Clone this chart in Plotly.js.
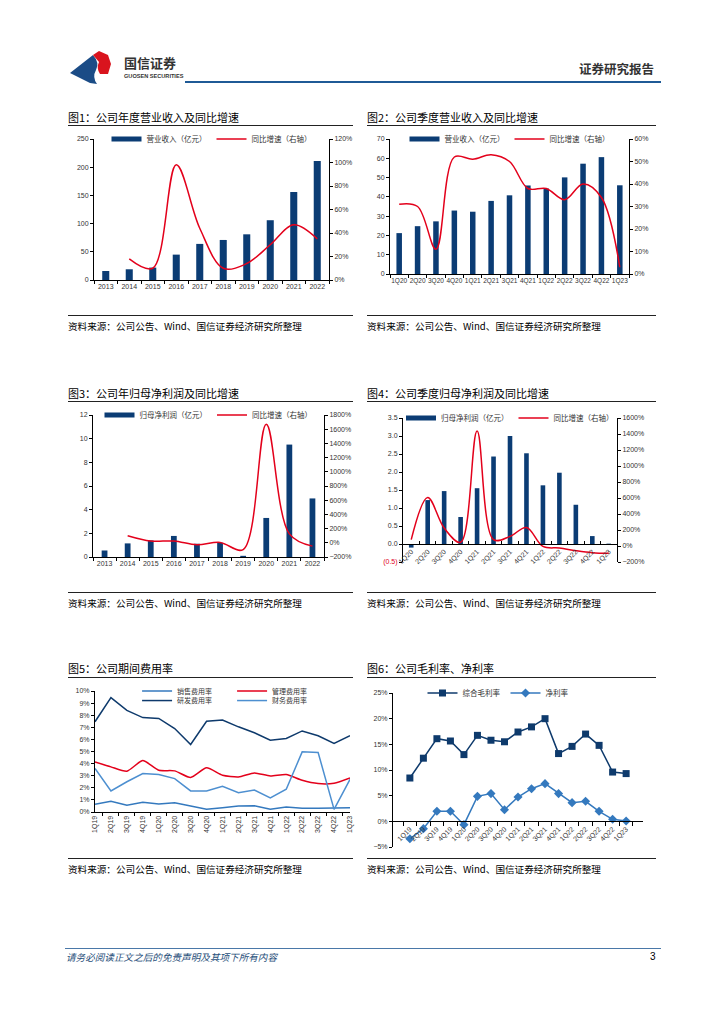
<!DOCTYPE html>
<html><head><meta charset="utf-8">
<script src="https://cdn.plot.ly/plotly-3.0.1.min.js"></script>
<style>
body{margin:0;background:#fff;width:724px;height:1024px;position:relative;overflow:hidden;font-family:"Liberation Sans","Noto Sans CJK SC",sans-serif;}
.abs{position:absolute;}
.title{position:absolute;font-size:11px;color:#000;white-space:nowrap;line-height:12px;font-family:"Noto Sans CJK SC",sans-serif;}
.src{position:absolute;font-size:9.6px;color:#000;white-space:nowrap;line-height:11px;font-family:"Noto Sans CJK SC",sans-serif;}
.hr{position:absolute;height:1px;background:#222;}
.chart{position:absolute;width:300px;}
</style></head><body>

<!-- header -->
<svg class="abs" style="left:66px;top:50px" width="50" height="36" viewBox="66 50 50 36">
  <path d="M70,73 L93,55 Q100,63 96,70 Q92,77 97,84 L90,83 Z" fill="#1B4C86"/>
  <path d="M93,55 L99,51 L108,55 L111,64 L108,74 L100,74 Q96,68 99,62 Z" fill="#D9141E"/>
</svg>
<div class="abs" style="left:124px;top:55px;font-size:13px;font-weight:bold;color:#333;letter-spacing:0px;font-family:'Noto Sans CJK SC';line-height:15px;">国信证券</div>
<div class="abs" style="left:124px;top:73px;font-size:5.6px;font-weight:bold;color:#333;font-family:'Liberation Sans';line-height:7px;">GUOSEN SECURITIES</div>
<div class="abs" style="left:579px;top:61px;font-size:12.5px;font-weight:bold;color:#333;font-family:'Noto Sans CJK SC';line-height:15px;">证券研究报告</div>
<div class="abs" style="left:185px;top:81px;width:476px;height:2px;background:#1F5A96;"></div>

<!-- titles -->
<div class="title" style="left:68px;top:111px">图1：公司年度营业收入及同比增速</div>
<div class="hr" style="left:68px;top:125px;width:285px"></div>
<div class="title" style="left:367px;top:111px">图2：公司季度营业收入及同比增速</div>
<div class="hr" style="left:367px;top:125px;width:289px"></div>

<div class="title" style="left:68px;top:387px">图3：公司年归母净利润及同比增速</div>
<div class="hr" style="left:68px;top:401px;width:285px"></div>
<div class="title" style="left:367px;top:387px">图4：公司季度归母净利润及同比增速</div>
<div class="hr" style="left:367px;top:401px;width:289px"></div>

<div class="title" style="left:68px;top:662px">图5：公司期间费用率</div>
<div class="hr" style="left:68px;top:677px;width:285px"></div>
<div class="title" style="left:367px;top:662px">图6：公司毛利率、净利率</div>
<div class="hr" style="left:367px;top:677px;width:289px"></div>

<!-- charts -->
<div id="c1" class="chart" style="left:60px;top:109px"></div>
<div id="c2" class="chart" style="left:360px;top:109px"></div>
<div id="c3" class="chart" style="left:60px;top:385px"></div>
<div id="c4" class="chart" style="left:360px;top:388px"></div>
<div id="c5" class="chart" style="left:60px;top:661px"></div>
<div id="c6" class="chart" style="left:360px;top:663px"></div>

<!-- sources -->
<div class="hr" style="left:68px;top:315px;width:285px"></div>
<div class="src" style="left:68px;top:321px">资料来源：公司公告、Wind、国信证券经济研究所整理</div>
<div class="hr" style="left:367px;top:315px;width:289px"></div>
<div class="src" style="left:367px;top:321px">资料来源：公司公告、Wind、国信证券经济研究所整理</div>

<div class="hr" style="left:68px;top:592px;width:285px"></div>
<div class="src" style="left:68px;top:598px">资料来源：公司公告、Wind、国信证券经济研究所整理</div>
<div class="hr" style="left:367px;top:592px;width:289px"></div>
<div class="src" style="left:367px;top:598px">资料来源：公司公告、Wind、国信证券经济研究所整理</div>

<div class="hr" style="left:68px;top:858px;width:285px"></div>
<div class="src" style="left:68px;top:864px">资料来源：公司公告、Wind、国信证券经济研究所整理</div>
<div class="hr" style="left:367px;top:858px;width:289px"></div>
<div class="src" style="left:367px;top:864px">资料来源：公司公告、Wind、国信证券经济研究所整理</div>

<!-- footer -->
<div class="abs" style="left:65px;top:948px;width:596px;height:1px;background:#4A78A8;"></div>
<div class="abs" style="left:66px;top:951px;font-size:9.6px;font-style:italic;color:#1F4E79;font-family:'Noto Sans CJK SC';line-height:12px;">请务必阅读正文之后的免责声明及其项下所有内容</div>
<div class="abs" style="left:650px;top:951px;font-size:10px;color:#000;line-height:12px;">3</div>

<script>
// ---------- data ----------
const years = ['2013','2014','2015','2016','2017','2018','2019','2020','2021','2022'];
const annualRevenue = [16,19,22,45,64,71,81,106,156,211];
const annualRevenueGrowth = [null,18,10,98,44,10,14,30,47,35];

const quarters20 = ['1Q20','2Q20','3Q20','4Q20','1Q21','2Q21','3Q21','4Q21','1Q22','2Q22','3Q22','4Q22','1Q23'];
const quarterRevenue = [21.2,24.8,27.3,32.9,32.3,37.9,40.8,45.9,44.3,50.1,57.2,60.6,46.0];
const quarterRevenueGrowth = [31,30,11,52,51,53,50,38,38,33,40,34,3];

const annualProfit = [0.55,1.15,1.4,1.78,1.12,1.2,0.1,3.3,9.5,4.95];
const annualProfitGrowth = [null,100,25,25,-28,5,-95,1670,126,-47];

const quarterProfit = [-0.1,1.22,1.47,0.75,1.55,2.43,3.0,2.52,1.63,1.98,1.09,0.22,0.01];
const quarterProfitGrowth = [79,606,224,46,1436,79,120,232,-5,-25,-58,-83,-91];
const q4Ticks = [-0.5,0,0.5,1,1.5,2,2.5,3,3.5];
const q4TickText = ['<span style="fill:#e0001b">(0.5)</span>','0.0','0.5','1.0','1.5','2.0','2.5','3.0','3.5'];

const quarters19 = ['1Q19','2Q19','3Q19','4Q19','1Q20','2Q20','3Q20','4Q20','1Q21','2Q21','3Q21','4Q21','1Q22','2Q22','3Q22','4Q22','1Q23'];
const sellingRate = [0.64,0.88,0.55,0.8,0.66,0.77,0.5,0.22,0.36,0.5,0.52,0.22,0.41,0.3,0.3,0.3,0.36];
const adminRate = [4.14,3.73,3.37,4.25,3.45,3.4,2.85,3.65,3.04,2.9,3.23,2.98,3.1,2.62,2.35,2.38,2.82];
const rdRate = [7.46,9.45,8.4,7.8,7.73,6.9,5.58,7.5,7.6,7.04,6.55,5.94,6.08,6.7,6.3,5.66,6.3];
const financeRate = [3.6,1.74,2.5,3.18,3.1,2.76,1.74,1.74,2.13,1.6,1.82,1.16,1.88,4.97,4.92,0.22,2.7];

const grossMargin = [8.44,12.3,16.1,15.65,13.0,16.75,15.8,15.5,17.4,18.4,20.0,13.2,14.6,17.0,14.8,9.6,9.3];
const netMargin = [-3.4,-1.43,1.95,1.95,-0.65,4.87,5.4,2.27,4.74,6.36,7.34,5.4,3.64,3.9,1.95,0.4,0.06];

// ---------- styles ----------
const NAVY = '#0B3C74', RED = '#E3001B', BLUE = '#3479BE', LBLUE = '#4D8FD0', DNAVY = '#0E3A6C';
const FONT = {family:'Liberation Sans, Noto Sans CJK SC, sans-serif', size:7, color:'#333'};
const LFONT = {family:'Noto Sans CJK SC, sans-serif', size:7.5, color:'#333'};
const cfg = {staticPlot:true, displayModeBar:false};
function axis(extra){
  return Object.assign({showline:true, linecolor:'#000', linewidth:1, ticks:'outside', ticklen:3,
    tickcolor:'#000', showgrid:false, zeroline:false, tickfont:FONT, fixedrange:true}, extra);
}
function baseLayout(height, margin, extra){
  return Object.assign({width:300, height:height, margin:margin, paper_bgcolor:'rgba(0,0,0,0)',
    plot_bgcolor:'rgba(0,0,0,0)', font:FONT, showlegend:true, hovermode:false,
    legend:{orientation:'h', x:0.5, xanchor:'center', y:1.0, yanchor:'middle', font:LFONT,
      bgcolor:'rgba(0,0,0,0)', itemwidth:30, tracegroupgap:0}}, extra);
}
function legendBar(name){
  return {type:'scatter', mode:'lines', x:[null], y:[null], name:name, line:{color:NAVY, width:5}, hoverinfo:'skip'};
}

// ---------- chart 1 ----------
Plotly.newPlot('c1', [
  {type:'bar', x:years, y:annualRevenue, marker:{color:NAVY}, width:0.3, showlegend:false},
  legendBar('营业收入（亿元）'),
  {type:'scatter', mode:'lines', x:years, y:annualRevenueGrowth, yaxis:'y2', name:'同比增速（右轴）',
   line:{color:RED, width:1.5, shape:'spline'}}
], baseLayout(199, {l:34,r:31,t:30,b:28}, {
  xaxis:axis({type:'category', tickson:'boundaries', tickangle:0}),
  yaxis:axis({range:[0,250], dtick:50}),
  yaxis2:axis({overlaying:'y', side:'right', range:[0,120], dtick:20, ticksuffix:'%'})
}), cfg);

// ---------- chart 2 ----------
Plotly.newPlot('c2', [
  {type:'bar', x:quarters20, y:quarterRevenue, marker:{color:NAVY}, width:0.3, showlegend:false},
  legendBar('营业收入（亿元）'),
  {type:'scatter', mode:'lines', x:quarters20, y:quarterRevenueGrowth, yaxis:'y2', name:'同比增速（右轴）',
   line:{color:RED, width:1.5, shape:'spline'}}
], baseLayout(199, {l:30,r:31,t:30,b:34}, {
  xaxis:axis({type:'category', tickson:'boundaries', tickangle:0, tickfont:Object.assign({},FONT,{size:6.5})}),
  yaxis:axis({range:[0,70], dtick:10}),
  yaxis2:axis({overlaying:'y', side:'right', range:[0,60], dtick:10, ticksuffix:'%'})
}), cfg);

// ---------- chart 3 ----------
Plotly.newPlot('c3', [
  {type:'bar', x:years, y:annualProfit, marker:{color:NAVY}, width:0.25, showlegend:false},
  legendBar('归母净利润（亿元）'),
  {type:'scatter', mode:'lines', x:years, y:annualProfitGrowth, yaxis:'y2', name:'同比增速（右轴）',
   line:{color:RED, width:1.5, shape:'spline'}}
], baseLayout(199, {l:33,r:36,t:30,b:27}, {
  xaxis:axis({type:'category', tickson:'boundaries', tickangle:0}),
  yaxis:axis({range:[0,12], dtick:2}),
  yaxis2:axis({overlaying:'y', side:'right', range:[-200,1800], dtick:200, ticksuffix:'%'})
}), cfg);

// ---------- chart 4 ----------
Plotly.newPlot('c4', [
  {type:'bar', x:quarters20, y:quarterProfit, marker:{color:NAVY}, width:0.28, showlegend:false},
  legendBar('归母净利润（亿元）'),
  {type:'scatter', mode:'lines', x:quarters20, y:quarterProfitGrowth, yaxis:'y2', name:'同比增速（右轴）',
   line:{color:RED, width:1.5, shape:'spline'}}
], baseLayout(196, {l:43,r:43,t:30,b:22}, {
  xaxis:axis({type:'category', tickson:'boundaries', tickangle:-45, anchor:'free', position:0.125, ticks:'inside'}),
  yaxis:axis({range:[-0.5,3.5], tickvals:q4Ticks, ticktext:q4TickText}),
  yaxis2:axis({overlaying:'y', side:'right', range:[-200,1600], dtick:200, ticksuffix:'%'})
}), cfg);

// ---------- chart 5 ----------
const LFONT5 = Object.assign({}, LFONT, {size:7});
const l5 = baseLayout(199, {l:35,r:10,t:30,b:48}, {
  xaxis:axis({type:'category', tickson:'boundaries', tickangle:-90}),
  yaxis:axis({range:[0,10], dtick:1, ticksuffix:'%'}),
  legend:{orientation:'h', x:0.165, xanchor:'left', y:1.0, yanchor:'middle', font:LFONT5,
    bgcolor:'rgba(0,0,0,0)', itemwidth:30, entrywidth:50, entrywidthmode:'pixels'},
  legend2:{orientation:'h', x:0.165, xanchor:'left', y:0.921, yanchor:'middle', font:LFONT5,
    bgcolor:'rgba(0,0,0,0)', itemwidth:30, entrywidth:50, entrywidthmode:'pixels'}
});
Plotly.newPlot('c5', [
  {type:'scatter', mode:'lines', x:quarters19, y:sellingRate, name:'销售费用率', line:{color:BLUE, width:1.5}},
  {type:'scatter', mode:'lines', x:quarters19, y:adminRate, name:'管理费用率', line:{color:RED, width:1.5, shape:'spline', smoothing:0.6}},
  {type:'scatter', mode:'lines', x:quarters19, y:rdRate, name:'研发费用率', legend:'legend2', line:{color:DNAVY, width:1.5}},
  {type:'scatter', mode:'lines', x:quarters19, y:financeRate, name:'财务费用率', legend:'legend2', line:{color:LBLUE, width:1.5}}
], l5, cfg);

// ---------- chart 6 ----------
Plotly.newPlot('c6', [
  {type:'scatter', mode:'lines+markers', x:quarters19, y:grossMargin, name:'综合毛利率',
   line:{color:DNAVY, width:1.5}, marker:{symbol:'square', size:7, color:DNAVY}},
  {type:'scatter', mode:'lines+markers', x:quarters19, y:netMargin, name:'净利率',
   line:{color:BLUE, width:1.5}, marker:{symbol:'diamond', size:7, color:BLUE}}
], baseLayout(197, {l:33,r:17,t:30,b:13}, {
  xaxis:axis({type:'category', tickson:'boundaries', tickangle:-45, anchor:'free', position:1/6, ticklen:4}),
  yaxis:axis({range:[-5,25], dtick:5, ticksuffix:'%'}),
  legend:{orientation:'h', x:0.42, xanchor:'center', y:1.0, yanchor:'middle', font:LFONT,
    bgcolor:'rgba(0,0,0,0)', itemwidth:30}
}), cfg);
</script>
</body></html>
